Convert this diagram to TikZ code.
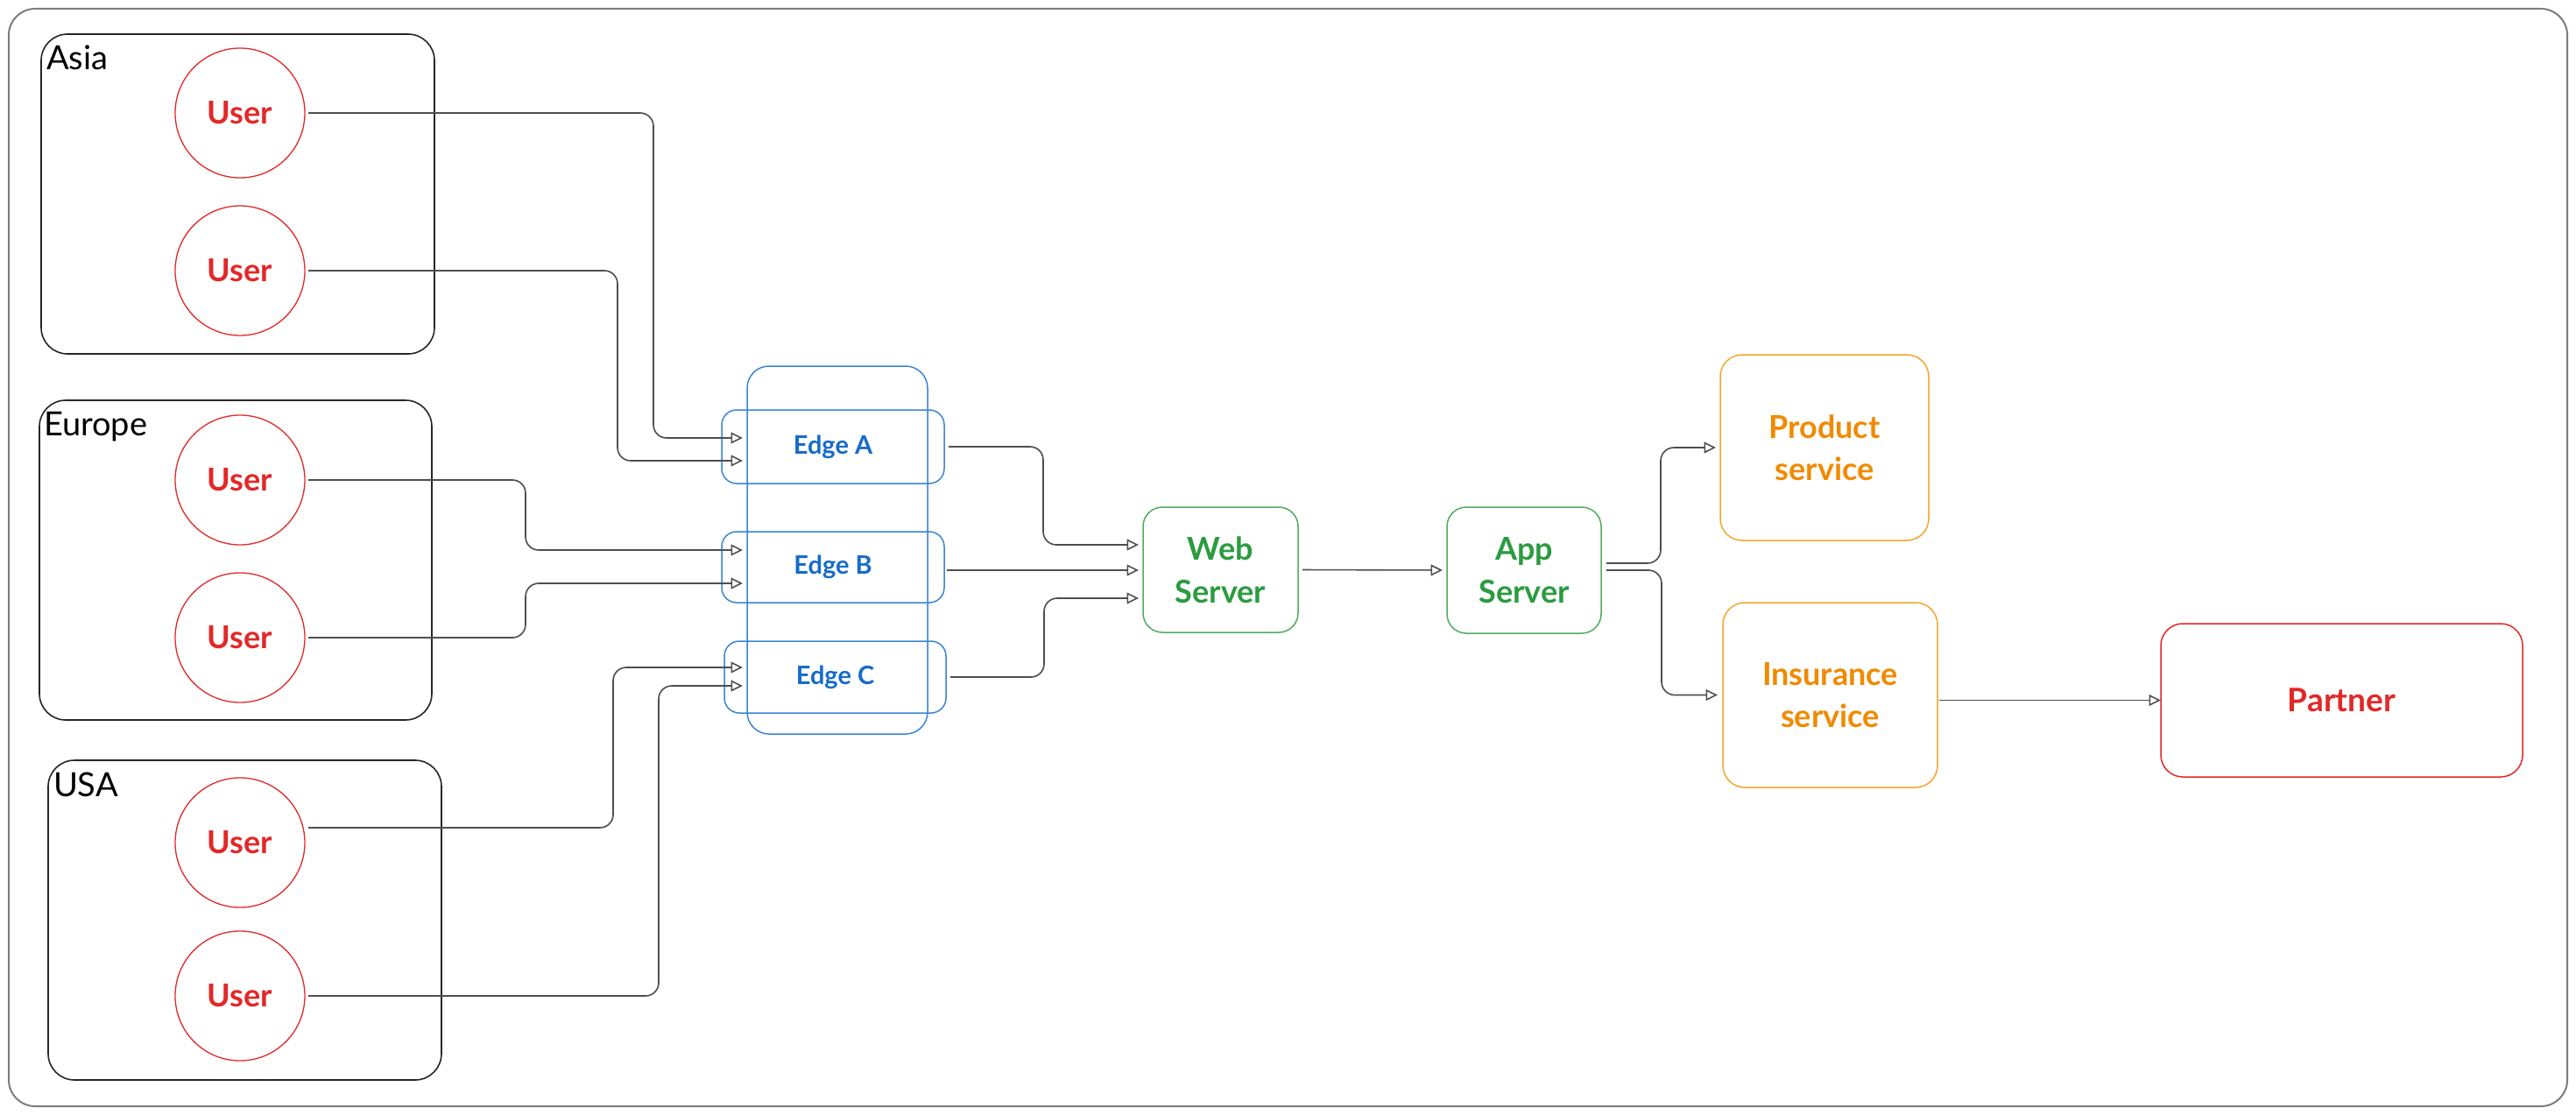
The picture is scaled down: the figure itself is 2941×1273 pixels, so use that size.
\documentclass[tikz,border=0pt]{standalone}
\usepackage{fontspec}
\setmainfont{Lato}
\usetikzlibrary{arrows.meta}

\definecolor{userred}{RGB}{226,40,40}
\definecolor{edgeblue}{RGB}{22,108,200}
\definecolor{edgeline}{RGB}{60,132,212}
\definecolor{srvgreen}{RGB}{44,155,64}
\definecolor{srvline}{RGB}{80,172,92}
\definecolor{svcorange}{RGB}{240,138,0}
\definecolor{svcline}{RGB}{245,165,45}
\definecolor{linkgray}{RGB}{78,78,78}
\definecolor{outergray}{RGB}{125,125,125}

\begin{document}
\begin{tikzpicture}[
	x=1pt, y=-1pt,
	every node/.style={align=center, inner sep=0pt, outer sep=0pt},
	outerbox/.style={draw=outergray, line width=2pt, rounded corners=30pt},
	regionbox/.style={draw=black!85, line width=1.6pt, rounded corners=30pt, minimum width=449pt, minimum height=365pt},
	regionlabel/.style={anchor=base west, font=\fontsize{38}{44}\selectfont},
	userbox/.style={circle, draw=userred, line width=1.3pt, minimum size=148pt, text=userred, font=\fontsize{36}{42}\selectfont\bfseries},
	edgebox/.style={draw=edgeline, line width=1.5pt, rounded corners=17pt, text=edgeblue, font=\fontsize{29}{34}\selectfont\bfseries},
	serverbox/.style={draw=srvline, line width=1.5pt, rounded corners=22pt, text=srvgreen, font=\fontsize{36}{49}\selectfont\bfseries},
	servicebox/.style={draw=svcline, line width=1.5pt, rounded corners=25pt, text=svcorange, font=\fontsize{36}{48}\selectfont\bfseries},
	partnerbox/.style={draw=userred, line width=1.5pt, rounded corners=25pt, text=userred, font=\fontsize{37}{42}\selectfont\bfseries},
	link/.style={draw=linkgray, line width=1.6pt, rounded corners=15pt, -{Triangle[open, length=13.5pt, width=13pt]}}
	]
	\useasboundingbox (0,0) rectangle (2941,1273);
	
	% Frame
	\node[outerbox, minimum width=2921pt, minimum height=1253pt] (all) at (1470.5,636.5) {};
	
	% Regions
	\node[regionbox] (asia) at (271.5,221.5) {};
	\node[regionbox, minimum width=448pt] (europe) at (269,639.5) {};
	\node[regionbox] (usa) at (279.5,1050.5) {};
	\node[regionlabel] (asiaLbl) at ([shift={(6pt,-41pt)}]asia.north west) {Asia};
	\node[regionlabel] (europeLbl) at ([shift={(5pt,-40pt)}]europe.north west) {Europe};
	\node[regionlabel] (usaLbl) at ([shift={(6pt,-41pt)}]usa.north west) {USA};
	
	% Users
	\node[userbox] (ua1) at (274,129) {User};
	\node[userbox] (ua2) at (274,309) {User};
	\node[userbox] (ue1) at (274,548) {User};
	\node[userbox] (ue2) at (274,728) {User};
	\node[userbox] (uu1) at (274,962) {User};
	\node[userbox] (uu2) at (274,1137) {User};
	
	% Edges
	\node[edgebox, rounded corners=25pt, minimum width=206pt, minimum height=420pt] (edges) at (956,628) {};
	\node[edgebox, minimum width=254pt, minimum height=84pt] (eA) at (951,510) {Edge A};
	\node[edgebox, minimum width=254pt, minimum height=81pt] (eB) at (951,647.5) {Edge B};
	\node[edgebox, minimum width=253pt, minimum height=82pt] (eC) at (953.5,773) {Edge C};
	
	% Servers and services
	\node[serverbox, minimum width=177pt, minimum height=143pt] (web) at (1393.5,650.5) {Web\\Server};
	\node[serverbox, minimum width=176pt, minimum height=144pt] (app) at (1740,651) {App\\Server};
	\node[servicebox, minimum width=238pt, minimum height=212pt] (prod) at (2083,511) {Product\\service};
	\node[servicebox, minimum width=245pt, minimum height=211pt] (ins) at (2089.5,793.5) {Insurance\\service};
	\node[partnerbox, minimum width=413pt, minimum height=175pt] (partner) at (2673.5,799.5) {Partner};
	
	% Arrow ends on the edges
	\coordinate (inA1) at (848,500);
	\coordinate (inA2) at (848,526);
	\coordinate (inB1) at (848,628);
	\coordinate (inB2) at (848,666);
	\coordinate (inC1) at (848,762);
	\coordinate (inC2) at (848,783);
	\coordinate (inW1) at (1300,622);
	\coordinate (inW2) at (1300,651);
	\coordinate (inW3) at (1300,683);
	
	% Users to edges
	\draw[link, shorten <=4pt] (ua1.east) -| ([xshift=-102pt]inA1) -- (inA1);
	\draw[link, shorten <=4pt] (ua2.east) -| ([xshift=-143pt]inA2) -- (inA2);
	\draw[link, shorten <=4pt] (ue1.east) -| ([xshift=-248pt]inB1) -- (inB1);
	\draw[link, shorten <=4pt] (ue2.east) -| ([xshift=-248pt]inB2) -- (inB2);
	\draw[link, shorten <=4pt] ([yshift=17pt]uu1.east) -| ([xshift=-148pt]inC1) -- (inC1);
	\draw[link, shorten <=4pt] (uu2.east) -| ([xshift=-96pt]inC2) -- (inC2);
	
	% Edges to web server
	\draw[link, shorten <=5pt] (eA.east) -| ([xshift=-109pt]inW1) -- (inW1);
	\draw[link, shorten <=3pt] (eB.east |- inW2) -- (inW2);
	\draw[link, shorten <=5pt] (eC.east) -| ([xshift=-108pt]inW3) -- (inW3);
	
	% Web server onwards
	\draw[link, shorten <=5pt, shorten >=5pt] (web.east) -- (app.west);
	\draw[link, shorten <=6pt, shorten >=5pt] ([yshift=8pt]app.east) -| ([xshift=-68pt]prod.west) -- (prod.west);
	\draw[link, shorten <=6pt, shorten >=6pt] (app.east) -| ([xshift=-70pt]ins.west) -- (ins.west);
	\draw[link, shorten <=2pt] (ins.east |- partner.west) -- (partner.west);
	
\end{tikzpicture}
\end{document}
